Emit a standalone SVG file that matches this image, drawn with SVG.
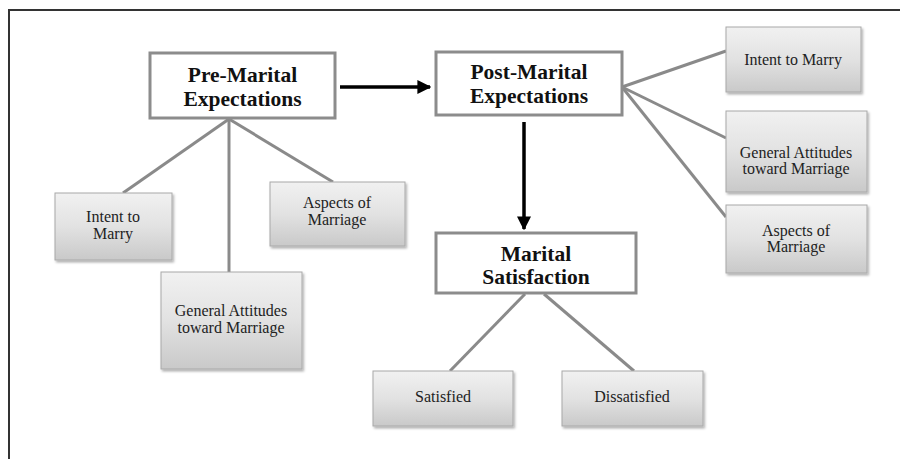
<svg xmlns="http://www.w3.org/2000/svg" width="900" height="459" viewBox="0 0 900 459">
<defs>
<linearGradient id="g" x1="0" y1="0" x2="0" y2="1">
<stop offset="0" stop-color="#f1f1f1"/>
<stop offset="0.5" stop-color="#e2e2e2"/>
<stop offset="1" stop-color="#c9c9c9"/>
</linearGradient>
<filter id="sh" x="-10%" y="-10%" width="130%" height="130%">
<feDropShadow dx="1.5" dy="2" stdDeviation="1.2" flood-color="#000" flood-opacity="0.3"/>
</filter>
<marker id="ah" viewBox="0 0 10 10" refX="9" refY="5" markerWidth="4" markerHeight="4.3" orient="auto">
<path d="M0,0 L10,5 L0,10 Z" fill="#000"/>
</marker>
</defs>
<style>
.main{fill:#fff;stroke:#8c8c8c;stroke-width:3}
.sub{fill:url(#g);stroke:#a8a8a8;stroke-width:1;filter:url(#sh)}
.h{font-family:"Liberation Serif","Times New Roman",serif;font-weight:bold;font-size:21.5px;fill:#111;text-anchor:middle}
.t{font-family:"Liberation Serif","Times New Roman",serif;font-size:16px;fill:#222;text-anchor:middle}
.ln{stroke:#8a8a8a;stroke-width:3;fill:none}
.ar{stroke:#000;stroke-width:3.5;fill:none;marker-end:url(#ah)}
</style>
<rect width="900" height="459" fill="#fff"/>
<path d="M9,459 V10 H900" fill="none" stroke="#333" stroke-width="2"/>

<g id="connectors">
<line class="ln" x1="229" y1="119" x2="123" y2="193"/>
<line class="ln" x1="229" y1="119" x2="229" y2="272"/>
<line class="ln" x1="229" y1="119" x2="333" y2="182"/>
<line class="ln" x1="622" y1="87" x2="726" y2="51"/>
<line class="ln" x1="622" y1="87" x2="726" y2="138"/>
<line class="ln" x1="622" y1="87" x2="726" y2="217"/>
<line class="ln" x1="525" y1="294" x2="450" y2="371"/>
<line class="ln" x1="544" y1="294" x2="634" y2="371"/>
<line class="ar" x1="340" y1="87" x2="430" y2="87"/>
<line class="ar" x1="524" y1="122" x2="524" y2="229"/>
</g>

<g id="pre-marital">
<rect class="main" x="150" y="53" width="185" height="65"/>
<text class="h" x="242.5" y="82">Pre-Marital</text>
<text class="h" x="242.5" y="106">Expectations</text>
</g>
<g id="post-marital">
<rect class="main" x="436" y="52" width="186" height="63"/>
<text class="h" x="529" y="79">Post-Marital</text>
<text class="h" x="529" y="103">Expectations</text>
</g>
<g id="marital-satisfaction">
<rect class="main" x="436" y="233" width="200" height="60"/>
<text class="h" x="536" y="261">Marital</text>
<text class="h" x="536" y="284">Satisfaction</text>
</g>

<g id="pre-intent">
<rect class="sub" x="55" y="193" width="117" height="67"/>
<text class="t" x="113" y="222">Intent to</text>
<text class="t" x="113" y="239">Marry</text>
</g>
<g id="pre-aspects">
<rect class="sub" x="270" y="182" width="135" height="64"/>
<text class="t" x="337" y="208">Aspects of</text>
<text class="t" x="337" y="225">Marriage</text>
</g>
<g id="pre-general">
<rect class="sub" x="161" y="272" width="141" height="97"/>
<text class="t" x="231" y="316">General Attitudes</text>
<text class="t" x="231" y="333">toward Marriage</text>
</g>

<g id="post-intent">
<rect class="sub" x="726" y="27" width="135" height="65"/>
<text class="t" x="793" y="65">Intent to Marry</text>
</g>
<g id="post-general">
<rect class="sub" x="726" y="111" width="141" height="81"/>
<text class="t" x="796" y="158">General Attitudes</text>
<text class="t" x="796" y="174">toward Marriage</text>
</g>
<g id="post-aspects">
<rect class="sub" x="726" y="205" width="141" height="68"/>
<text class="t" x="796" y="236">Aspects of</text>
<text class="t" x="796" y="252">Marriage</text>
</g>

<g id="satisfied">
<rect class="sub" x="373" y="371" width="140" height="55"/>
<text class="t" x="443" y="402">Satisfied</text>
</g>
<g id="dissatisfied">
<rect class="sub" x="562" y="371" width="141" height="55"/>
<text class="t" x="632" y="402">Dissatisfied</text>
</g>
</svg>
